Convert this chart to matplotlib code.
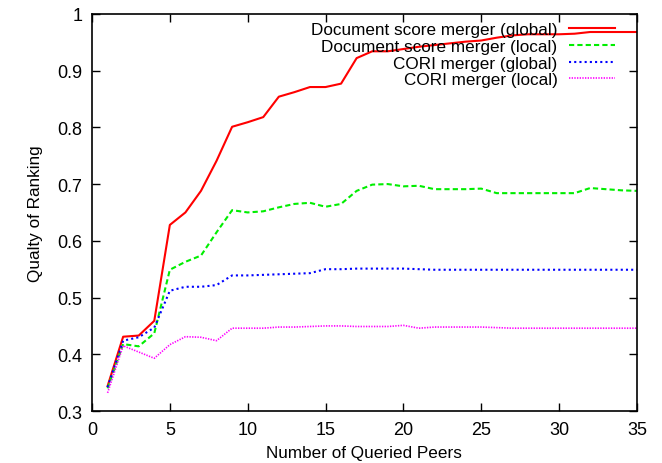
import matplotlib
matplotlib.use("Agg")
import matplotlib.pyplot as plt

plt.rcParams['font.family'] = ['Liberation Sans', 'DejaVu Sans']

peers = list(range(1, 36))

doc_global = [0.344, 0.431, 0.433, 0.459, 0.628, 0.650, 0.688, 0.741, 0.801, 0.809,
              0.818, 0.854, 0.862, 0.871, 0.871, 0.877, 0.922, 0.934, 0.934, 0.938,
              0.942, 0.945, 0.948, 0.951, 0.953, 0.958, 0.962, 0.964, 0.964, 0.964,
              0.965, 0.968, 0.968, 0.968, 0.968]

doc_local = [0.340, 0.418, 0.414, 0.437, 0.549, 0.563, 0.574, 0.615, 0.654, 0.650,
             0.652, 0.659, 0.665, 0.667, 0.660, 0.665, 0.688, 0.699, 0.700, 0.696,
             0.697, 0.691, 0.691, 0.691, 0.692, 0.684, 0.684, 0.684, 0.684, 0.684,
             0.684, 0.693, 0.691, 0.689, 0.688]

cori_global = [0.342, 0.424, 0.430, 0.447, 0.512, 0.519, 0.519, 0.522, 0.539, 0.539,
               0.540, 0.541, 0.542, 0.543, 0.550, 0.550, 0.551, 0.551, 0.551, 0.551,
               0.550, 0.549, 0.549, 0.549, 0.549, 0.549, 0.549, 0.549, 0.549, 0.549,
               0.549, 0.549, 0.549, 0.549, 0.549]

cori_local = [0.332, 0.415, 0.404, 0.393, 0.417, 0.431, 0.430, 0.424, 0.446, 0.446,
              0.446, 0.448, 0.448, 0.449, 0.450, 0.450, 0.449, 0.449, 0.449, 0.451,
              0.446, 0.448, 0.448, 0.448, 0.448, 0.447, 0.446, 0.446, 0.446, 0.446,
              0.446, 0.446, 0.446, 0.446, 0.446]

labels = ["Document score merger (global)", "Document score merger (local)",
          "CORI merger (global)", "CORI merger (local)"]

fig = plt.figure(figsize=(6.62, 4.64), dpi=100)
ax = fig.add_axes([0.139, 0.112, 0.823, 0.856])

ax.plot(peers, doc_global, color="#ff0000", lw=1.5, ls="-", label=labels[0])
ax.plot(peers, doc_local, color="#00ee00", lw=1.5, ls=(0, (2.5, 1.5)), label=labels[1])
ax.plot(peers, cori_global, color="#0000ff", lw=1.5, ls=(0, (1, 1.5)), label=labels[2])
ax.plot(peers, cori_local, color="#ff00ff", lw=1.2, ls=(0, (0.8, 0.8)), label=labels[3])

ax.set_xlim(0, 35)
ax.set_ylim(0.3, 1.0)
ax.set_xticks(range(0, 36, 5))
ax.set_yticks([0.3, 0.4, 0.5, 0.6, 0.7, 0.8, 0.9, 1.0])
ax.set_yticklabels(["0.3", "0.4", "0.5", "0.6", "0.7", "0.8", "0.9", "1"])
ax.tick_params(direction="in", top=True, right=True, length=6, width=1,
               labelsize=13, pad=7)
for s in ax.spines.values():
    s.set_linewidth(1.2)

ax.set_xlabel("Number of Queried Peers", fontsize=12.3, labelpad=5)
ax.set_ylabel("Qualty of Ranking", fontsize=12.3, labelpad=10)

# gnuplot-style key: text right-aligned, sample on the right
leg = ax.legend(loc="upper right", bbox_to_anchor=(0.972, 0.996), frameon=False,
                markerfirst=False, fontsize=12.3, handlelength=2.7,
                handletextpad=0.65, labelspacing=0.1, borderaxespad=0.0)
for t in leg.get_texts():
    t.set_ha("right")

fig.savefig("out.png", dpi=100)
